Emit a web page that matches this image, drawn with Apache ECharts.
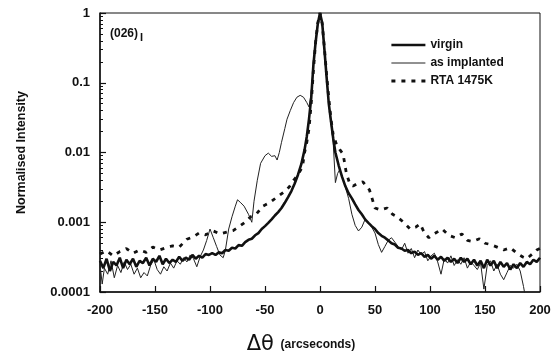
<!DOCTYPE html>
<html>
<head>
<meta charset="utf-8">
<script src="https://cdn.jsdelivr.net/npm/echarts@6/dist/echarts.min.js"></script>
<style>
  html, body { margin: 0; padding: 0; background: #fff; }
  #chart { width: 556px; height: 360px; }
</style>
</head>
<body>
<div id="chart"></div>
<script>
// x ticks (arcseconds) and y decades
const xTicks = [-200, -150, -100, -50, 0, 50, 100, 150, 200];
const yTicks = [0.0001, 0.001, 0.01, 0.1, 1];
const seriesNames = ['virgin', 'as implanted', 'RTA 1475K'];

// virgin: [angle, intensity]
const virgin = [
  [-200, 0.00028], [-197, 0.00022], [-194, 0.00030], [-191, 0.00020], [-188, 0.00027],
  [-185, 0.00024], [-182, 0.00031], [-179, 0.00022], [-176, 0.00029], [-173, 0.00025],
  [-170, 0.00030], [-167, 0.00023], [-164, 0.00028], [-161, 0.00026], [-158, 0.00031],
  [-155, 0.00024], [-152, 0.00030], [-149, 0.00027], [-146, 0.00033], [-143, 0.00025],
  [-140, 0.00030], [-137, 0.00026], [-134, 0.00029], [-131, 0.00027], [-128, 0.00032],
  [-125, 0.00028], [-122, 0.00031], [-119, 0.00029], [-116, 0.00034], [-113, 0.00030],
  [-110, 0.00033], [-107, 0.00031], [-104, 0.00035], [-101, 0.00034], [-98, 0.00036],
  [-95, 0.00034], [-92, 0.00037], [-89, 0.00036], [-86, 0.00040], [-83, 0.00039],
  [-80, 0.00043], [-77, 0.00042], [-74, 0.00047], [-71, 0.00046], [-68, 0.00052],
  [-65, 0.00056], [-62, 0.00058], [-59, 0.00065], [-56, 0.00070], [-53, 0.00080],
  [-50, 0.00088], [-47, 0.00098], [-44, 0.00110], [-41, 0.00125], [-38, 0.00140],
  [-35, 0.0016], [-32, 0.0019], [-29, 0.0023], [-26, 0.0028], [-23, 0.0036],
  [-20, 0.0048], [-17, 0.0068], [-14, 0.011], [-12, 0.017], [-10, 0.03],
  [-8, 0.06], [-6, 0.18], [-4, 0.38], [-2, 0.7], [0, 1],
  [2, 0.72], [4, 0.3], [6, 0.12], [8, 0.05], [10, 0.028],
  [12, 0.016], [14, 0.01], [17, 0.0065], [20, 0.0045], [23, 0.0033],
  [26, 0.0026], [29, 0.0022], [32, 0.0018], [35, 0.0015], [38, 0.0013],
  [41, 0.0011], [44, 0.00098], [47, 0.00088], [50, 0.0008], [53, 0.0007],
  [56, 0.00064], [59, 0.0006], [62, 0.00055], [65, 0.0005], [68, 0.00048],
  [71, 0.00043], [74, 0.00042], [77, 0.00039], [80, 0.00040], [83, 0.00036],
  [86, 0.00038], [89, 0.00034], [92, 0.00036], [95, 0.00032], [98, 0.00034],
  [101, 0.00030], [104, 0.00033], [107, 0.00029], [110, 0.00032], [113, 0.00028],
  [116, 0.00031], [119, 0.00027], [122, 0.00030], [125, 0.00026], [128, 0.00031],
  [131, 0.00027], [134, 0.00030], [137, 0.00025], [140, 0.00029], [143, 0.00024],
  [146, 0.00028], [149, 0.00022], [152, 0.00029], [155, 0.00024], [158, 0.00028],
  [161, 0.00022], [164, 0.00027], [167, 0.00023], [170, 0.00026], [173, 0.00021],
  [176, 0.00025], [179, 0.00022], [182, 0.00026], [185, 0.00023], [188, 0.00027],
  [191, 0.00025], [194, 0.00029], [197, 0.00027], [200, 0.00031]
];

// as implanted
const implanted = [
  [-200, 0.00025], [-198, 0.00013], [-196, 0.00022], [-193, 0.00018], [-190, 0.00028],
  [-187, 0.00016], [-184, 0.00024], [-181, 0.00019], [-178, 0.00027], [-175, 0.00021],
  [-172, 0.00025], [-169, 0.00018], [-166, 0.00022], [-163, 0.00016], [-160, 0.00019],
  [-157, 0.00017], [-154, 0.00024], [-151, 0.00029], [-148, 0.00021], [-145, 0.00018],
  [-142, 0.00023], [-139, 0.00020], [-136, 0.00026], [-133, 0.00022], [-130, 0.00028],
  [-127, 0.00025], [-124, 0.00031], [-121, 0.00027], [-118, 0.00034], [-115, 0.00030],
  [-112, 0.00023], [-109, 0.00032], [-106, 0.00040], [-103, 0.00055], [-100, 0.00080],
  [-97, 0.00060], [-94, 0.00045], [-91, 0.00034], [-88, 0.00031], [-86, 0.00040],
  [-83, 0.00080], [-80, 0.0012], [-77, 0.0017], [-75, 0.0021], [-72, 0.0019],
  [-69, 0.0017], [-65, 0.0013], [-62, 0.0010], [-60, 0.0020], [-57, 0.0040],
  [-54, 0.0070], [-50, 0.0090], [-47, 0.0098], [-44, 0.0088], [-41, 0.0090],
  [-39, 0.0078], [-37, 0.0100], [-35, 0.014], [-32, 0.022], [-30, 0.030],
  [-27, 0.040], [-24, 0.052], [-21, 0.062], [-18, 0.066], [-15, 0.062],
  [-12, 0.052], [-10, 0.045], [-8, 0.07], [-6, 0.18], [-4, 0.4],
  [-2, 0.72], [0, 1], [2, 0.7], [4, 0.3], [6, 0.12],
  [8, 0.05], [10, 0.026], [12, 0.014], [14, 0.0037], [16, 0.005],
  [18, 0.0057], [20, 0.0045], [23, 0.0032], [26, 0.0022], [29, 0.0013],
  [32, 0.0009], [35, 0.00075], [38, 0.00085], [41, 0.0011], [44, 0.0010],
  [47, 0.00085], [50, 0.0007], [53, 0.00048], [56, 0.00037], [59, 0.00045],
  [62, 0.00055], [65, 0.0006], [68, 0.00052], [71, 0.00045], [74, 0.00040],
  [77, 0.00050], [80, 0.00036], [83, 0.00042], [86, 0.00031], [89, 0.00040],
  [92, 0.00034], [95, 0.00038], [98, 0.00028], [101, 0.00033], [104, 0.00036],
  [107, 0.00027], [110, 0.00018], [113, 0.00030], [116, 0.00026], [119, 0.00033],
  [122, 0.00024], [125, 0.00029], [128, 0.00025], [131, 0.00031], [134, 0.00022],
  [137, 0.00027], [140, 0.00024], [143, 0.00021], [146, 0.00026], [149, 0.00011],
  [152, 0.00024], [155, 0.00028], [158, 0.00020], [161, 0.00025], [164, 0.00018],
  [167, 0.00015], [170, 0.00019], [173, 0.00024], [176, 0.00022], [179, 0.00025],
  [182, 0.00020], [185, 0.00012], [187, 0.00008]
];

// RTA 1475K
const rta = [
  [-200, 0.00035], [-194, 0.00039], [-188, 0.00033], [-182, 0.00038], [-176, 0.00042],
  [-170, 0.00036], [-164, 0.00040], [-158, 0.00037], [-152, 0.00044], [-146, 0.00040],
  [-140, 0.00043], [-134, 0.00046], [-128, 0.00044], [-121, 0.00057], [-115, 0.00062],
  [-110, 0.00070], [-104, 0.00066], [-97, 0.00075], [-91, 0.00068], [-85, 0.00072],
  [-79, 0.00076], [-73, 0.00088], [-68, 0.0010], [-63, 0.0012], [-58, 0.0013],
  [-52, 0.0017], [-46, 0.0019], [-39, 0.0023], [-33, 0.0027], [-28, 0.0032],
  [-24, 0.004], [-20, 0.0048], [-16, 0.0062], [-14, 0.01], [-12, 0.014],
  [-10, 0.022], [-8, 0.05], [-6, 0.15], [-4, 0.38], [-2, 0.72],
  [0, 1], [2, 0.7], [4, 0.32], [6, 0.13], [8, 0.06],
  [10, 0.03], [12, 0.018], [15, 0.013], [18, 0.011], [21, 0.0095],
  [24, 0.005], [27, 0.0036], [30, 0.0033], [34, 0.0036], [39, 0.0038],
  [45, 0.0029], [50, 0.0016], [55, 0.0015], [61, 0.0016], [66, 0.0013],
  [70, 0.0012], [76, 0.0010], [82, 0.0008], [87, 0.00085], [91, 0.00095],
  [95, 0.0007], [99, 0.0006], [105, 0.0007], [111, 0.0008], [117, 0.00065],
  [123, 0.00060], [129, 0.00068], [134, 0.00055], [139, 0.00053], [145, 0.00058],
  [150, 0.00050], [155, 0.00048], [161, 0.00044], [167, 0.00040], [173, 0.00043],
  [179, 0.00036], [184, 0.00032], [188, 0.00030], [193, 0.00035], [197, 0.00040],
  [200, 0.00042]
];

const font = '"Liberation Sans", Arial, sans-serif';

const chart = echarts.init(document.getElementById('chart'), null, { renderer: 'canvas' });

chart.setOption({
  animation: false,
  backgroundColor: '#fff',
  textStyle: { fontFamily: font },
  grid: {
    left: 100, right: 16, top: 13, bottom: 68,
    show: true, borderColor: '#111', borderWidth: 1
  },
  legend: {
    orient: 'vertical',
    left: 385, top: 34,
    itemWidth: 34, itemHeight: 12, itemGap: 6,
    itemStyle: { opacity: 0 },
    textStyle: { fontFamily: font, fontWeight: 'bold', fontSize: 12, color: '#111' },
    data: [
      { name: seriesNames[0], lineStyle: { width: 2.6 } },
      { name: seriesNames[1], lineStyle: { width: 1 } },
      { name: seriesNames[2], lineStyle: { width: 2.8 } }
    ]
  },
  xAxis: {
    type: 'value',
    min: xTicks[0], max: xTicks[xTicks.length - 1], interval: 50,
    axisLine: { lineStyle: { color: '#111', width: 1.5 } },
    axisTick: { inside: true, length: 6, lineStyle: { color: '#111', width: 1.2 } },
    splitLine: { show: false },
    axisLabel: { color: '#111', fontWeight: 'bold', fontSize: 13, margin: 12, fontFamily: font },
    name: '{d|\u0394\u03b8}  {a|(arcseconds)}',
    nameLocation: 'middle',
    nameGap: 42,
    nameTextStyle: {
      padding: [0, 38, 0, 0],
      rich: {
        d: { fontSize: 21, color: '#111', fontFamily: '"DejaVu Sans", sans-serif' },
        a: { fontSize: 12, fontWeight: 'bold', color: '#111', fontFamily: font }
      }
    }
  },
  yAxis: {
    type: 'log',
    logBase: 10,
    min: yTicks[0], max: yTicks[yTicks.length - 1],
    axisLine: { onZero: false, lineStyle: { color: '#111', width: 1.5 } },
    axisTick: { inside: true, length: 6, lineStyle: { color: '#111', width: 1.2 } },
    minorTick: { show: true, splitNumber: 9, length: 3, lineStyle: { color: '#111' } },
    splitLine: { show: false },
    axisLabel: {
      color: '#111', fontWeight: 'bold', fontSize: 13, margin: 10, fontFamily: font,
      formatter: function (v) {
        const hit = yTicks.find(function (t) { return Math.abs(Math.log10(t) - Math.log10(v)) < 1e-6; });
        return hit !== undefined ? String(hit) : '';
      }
    },
    name: 'Normalised Intensity',
    nameLocation: 'middle',
    nameGap: 72,
    nameTextStyle: { fontWeight: 'bold', fontSize: 12.5, color: '#111', fontFamily: font }
  },
  graphic: [
    {
      type: 'text', left: 110, top: 28,
      style: {
        text: '{a|(026)}{b|I}',
        rich: {
          a: { fontSize: 12, fontWeight: 'bold', fill: '#111', fontFamily: font },
          b: { fontSize: 11, fontWeight: 'bold', fill: '#111', fontFamily: font, padding: [8, 0, 0, 2] }
        }
      }
    }
  ],
  series: [
    {
      name: seriesNames[0], type: 'line', data: virgin,
      symbol: 'none', color: '#111',
      lineStyle: { color: '#111', width: 2.6 }, z: 3
    },
    {
      name: seriesNames[1], type: 'line', data: implanted,
      symbol: 'none', color: '#222',
      lineStyle: { color: '#222', width: 1 }, z: 2
    },
    {
      name: seriesNames[2], type: 'line', data: rta,
      symbol: 'none', color: '#111',
      lineStyle: { color: '#111', width: 2.8, type: [4, 6] }, z: 1
    }
  ]
});
</script>
</body>
</html>
